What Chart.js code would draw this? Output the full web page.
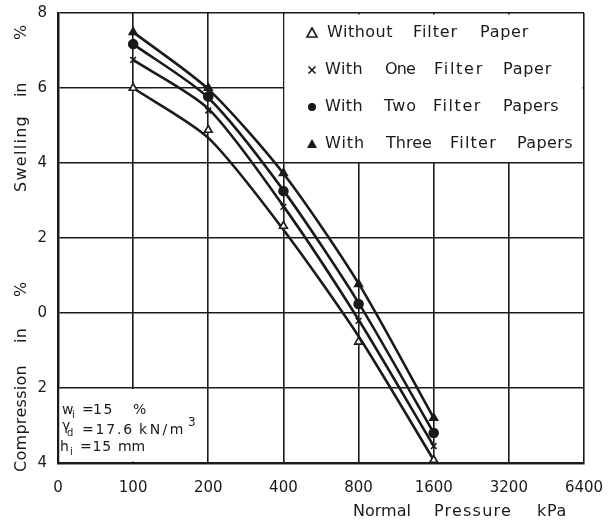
<!DOCTYPE html>
<html>
<head>
<meta charset="utf-8">
<script src="https://cdn.jsdelivr.net/npm/chart.js@4/dist/chart.umd.min.js"></script>
<style>
  html, body { margin: 0; padding: 0; background: #fff; }
  #wrap { width: 608px; height: 523px; }
</style>
</head>
<body>
<div id="wrap"><canvas id="swellChart" width="608" height="523"></canvas></div>
<script>
// -- Data --
const pressures = [100, 200, 400, 800, 1600];
const xTickValues = [50, 100, 200, 400, 800, 1600, 3200, 6400]; // 50 is shown as "0"
const yTickValues = [-4, -2, 0, 2, 4, 6, 8];

const seriesNames = ['Without Filter Paper', 'With One Filter Paper', 'With Two Filter Papers', 'With Three Filter Papers'];
// measured points (swelling +, compression -)
const noPaper = [6.0, 4.88, 2.32, -0.77, -3.92];
const onePaper = [6.75, 5.4, 2.83, -0.21, -3.55];
const twoPapers = [7.17, 5.77, 3.25, 0.24, -3.2];
const threePapers = [7.49, 6.0, 3.73, 0.77, -2.8];
// drawn best-fit curves, read at the same pressures
const noPaperFit = [6.0, 4.67, 2.22, -0.62, -3.92];
const onePaperFit = [6.75, 5.45, 2.85, -0.18, -3.55];
const twoPapersFit = [7.17, 5.74, 3.27, 0.27, -3.2];
const threePapersFit = [7.49, 5.97, 3.72, 0.79, -2.8];

const INK = '#1a1a1a';
const FONT = '"DejaVu Sans", sans-serif';

function toXY(values) {
    return pressures.map((p, i) => ({ x: p, y: values[i] }));
}

function curveSet(label, values) {
    return {
        label: label + ' (curve)',
        data: toXY(values),
        borderColor: INK,
        borderWidth: 2.6,
        pointRadius: 0,
        tension: 0.25,
        fill: false,
        order: 2
    };
}

function pointSet(label, values, style, filled) {
    return {
        label: label,
        data: toXY(values),
        showLine: false,
        pointStyle: style,
        pointRadius: style === 'crossRot' ? 4 : 4.5,
        pointBorderWidth: 1.6,
        pointBorderColor: INK,
        pointBackgroundColor: filled ? INK : '#fff',
        order: 1
    };
}

// draw one word stretched between x0 and x1
function spacedWord(ctx, word, x0, x1, y) {
    ctx.letterSpacing = '0px';
    const w = ctx.measureText(word).width;
    const ls = (x1 - x0 - w) / word.length;
    ctx.letterSpacing = ls.toFixed(2) + 'px';
    ctx.fillText(word, x0, y);
    ctx.letterSpacing = '0px';
}

// word start/end positions for the spaced lettering
const legendWords = [
    [['Without', 327, 393], ['Filter', 413, 458], ['Paper', 480, 529]],
    [['With', 325, 363], ['One', 385, 415], ['Filter', 434, 484], ['Paper', 503, 552]],
    [['With', 325, 363], ['Two', 384, 417], ['Filter', 433, 482], ['Papers', 503, 559]],
    [['With', 325, 365], ['Three', 386, 432], ['Filter', 450, 497], ['Papers', 517, 573]]
];

// -- Decorations: legend box, note box, axis titles --
const decorations = {
    id: 'decorations',
    beforeDatasetsDraw(chart) {
        const { ctx, chartArea: a, scales: { x, y } } = chart;
        ctx.save();
        // clear grid inside legend box
        const lx = x.getPixelForValue(400), ly = y.getPixelForValue(4);
        ctx.fillStyle = '#fff';
        ctx.fillRect(lx + 1, a.top + 1.5, a.right - lx - 2.5, ly - a.top - 2.5);
        // clear grid inside the note box
        const nx = x.getPixelForValue(200), ny = y.getPixelForValue(-2);
        ctx.fillRect(a.left + 1.5, ny + 1, nx - a.left - 3, a.bottom - ny - 2.5);

        // legend
        ctx.fillStyle = INK;
        ctx.strokeStyle = INK;
        ctx.textBaseline = 'middle';
        ctx.font = '16px ' + FONT;
        const rows = [33, 70, 107, 144];
        const mx = 312;
        rows.forEach((ry, i) => {
            ctx.lineWidth = 1.6;
            ctx.beginPath();
            if (i === 0 || i === 3) {
                ctx.moveTo(mx, ry - 5);
                ctx.lineTo(mx + 5, ry + 4);
                ctx.lineTo(mx - 5, ry + 4);
                ctx.closePath();
                if (i === 3) ctx.fill(); else ctx.stroke();
            } else if (i === 1) {
                ctx.moveTo(mx - 3.5, ry - 3.5); ctx.lineTo(mx + 3.5, ry + 3.5);
                ctx.moveTo(mx + 3.5, ry - 3.5); ctx.lineTo(mx - 3.5, ry + 3.5);
                ctx.stroke();
            } else {
                ctx.arc(mx, ry, 4, 0, Math.PI * 2);
                ctx.fill();
            }
            legendWords[i].forEach(([w, x0, x1]) => spacedWord(ctx, w, x0, x1, ry));
        });

        // note text (soil sample properties)
        const big = '14px ' + FONT, sub = '10px ' + FONT;
        ctx.font = big;
        ctx.fillText('w', 62, 410);
        ctx.font = sub; ctx.fillText('i', 72, 415);
        ctx.font = big;
        ctx.fillText('=', 82, 410);
        spacedWord(ctx, '15', 93, 114, 410);
        ctx.fillText('%', 133, 410);
        ctx.fillText('\u03B3', 62, 426);
        ctx.font = sub; ctx.fillText('d', 67, 433);
        ctx.font = big;
        spacedWord(ctx, '=17.6', 82, 134, 430);
        spacedWord(ctx, 'kN/m', 139, 186, 430);
        ctx.font = '12px ' + FONT; ctx.fillText('3', 188, 423);
        ctx.font = big;
        ctx.fillText('h', 60, 447);
        ctx.font = sub; ctx.fillText('i', 70, 452);
        ctx.font = big;
        spacedWord(ctx, '=15', 80, 112, 447);
        spacedWord(ctx, 'mm', 118, 145, 447);
        ctx.restore();
    },
    afterDraw(chart) {
        const { ctx } = chart;
        ctx.save();
        ctx.fillStyle = INK;
        ctx.font = '16px ' + FONT;
        ctx.textBaseline = 'middle';
        // left titles, rotated: positions measured downward from canvas top
        const leftWords = [['Swelling', 192, 115], ['in', 97, 83], ['%', 40, 25],
                           ['Compression', 472, 365], ['in', 343, 328], ['%', 297, 284]];
        leftWords.forEach(([w, y0, y1]) => {
            ctx.save();
            ctx.translate(22, y0);
            ctx.rotate(-Math.PI / 2);
            spacedWord(ctx, w, 0, y0 - y1, 0);
            ctx.restore();
        });
        // bottom title
        [['Normal', 353, 411], ['Pressure', 434, 512], ['kPa', 537, 567]]
            .forEach(([w, x0, x1]) => spacedWord(ctx, w, x0, x1, 512));
        ctx.restore();
    }
};

const ctx = document.getElementById('swellChart').getContext('2d');
new Chart(ctx, {
    type: 'line',
    data: {
        datasets: [
            curveSet(seriesNames[0], noPaperFit),
            curveSet(seriesNames[1], onePaperFit),
            curveSet(seriesNames[2], twoPapersFit),
            curveSet(seriesNames[3], threePapersFit),
            pointSet(seriesNames[0], noPaper, 'triangle', false),
            pointSet(seriesNames[1], onePaper, 'crossRot', false),
            pointSet(seriesNames[2], twoPapers, 'circle', true),
            pointSet(seriesNames[3], threePapers, 'triangle', true)
        ]
    },
    options: {
        responsive: false,
        animation: false,
        layout: { padding: { top: 13, right: 24, left: 0, bottom: 0 } },
        plugins: { legend: { display: false }, tooltip: { enabled: false } },
        scales: {
            x: {
                type: 'logarithmic',
                min: 50,
                max: 6400,
                afterBuildTicks: (scale) => { scale.ticks = xTickValues.map(v => ({ value: v })); },
                afterFit: (scale) => {
                    scale.height = 60;
                    scale.paddingLeft = 0;
                    scale.paddingRight = 0;
                },
                ticks: {
                    autoSkip: false,
                    maxRotation: 0,
                    padding: 16,
                    color: INK,
                    font: { family: FONT, size: 15 },
                    callback: (v) => v === 50 ? '0' : String(v)
                },
                grid: { color: INK, lineWidth: 1.6, drawTicks: false },
                border: { color: INK, width: 2.5 }
            },
            y: {
                min: -4,
                max: 8,
                afterBuildTicks: (scale) => { scale.ticks = yTickValues.map(v => ({ value: v })); },
                afterFit: (scale) => {
                    scale.width = 58;
                    scale.paddingTop = 0;
                    scale.paddingBottom = 0;
                },
                ticks: {
                    padding: 11,
                    color: INK,
                    font: { family: FONT, size: 15 },
                    callback: (v) => String(Math.abs(v))
                },
                grid: { color: INK, lineWidth: 1.6, drawTicks: false },
                border: { color: INK, width: 2.5 }
            }
        }
    },
    plugins: [decorations]
});
</script>
</body>
</html>
